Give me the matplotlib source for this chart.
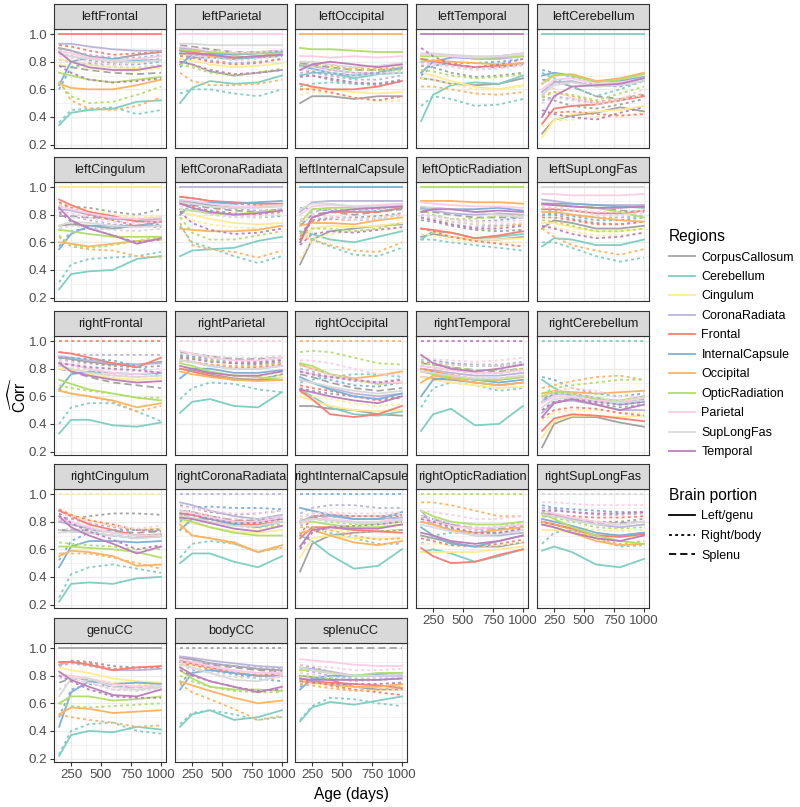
import matplotlib
matplotlib.use('Agg')
import matplotlib.pyplot as plt
from matplotlib.lines import Line2D
import numpy as np

plt.rcParams['font.family'] = ['Liberation Sans', 'DejaVu Sans']
plt.rcParams['mathtext.fontset'] = 'custom'
plt.rcParams['mathtext.rm'] = 'Liberation Sans'

ages = [150, 250, 400, 600, 800, 1000]

regions = ['CorpusCallosum', 'Cerebellum', 'Cingulum', 'CoronaRadiata', 'Frontal',
           'InternalCapsule', 'Occipital', 'OpticRadiation', 'Parietal', 'SupLongFas', 'Temporal']
portions = ['Left/genu', 'Right/body', 'Splenu']

region_colors = ['#A3A3A3', '#80CFC1', '#FFEB94', '#BBB5DC', '#F97F72', '#7FB0D5',
                 '#FDB462', '#B3DE69', '#FCCDE5', '#D9D9D9', '#BC80BD']
portion_styles = ['-', (0, (1.6, 1.8)), (0, (4, 2.2))]

# curves in each panel: genu/body/splenu CC, then left/right of every other region
curves = [('CorpusCallosum', p) for p in portions]
for reg in regions[1:]:
    curves += [(reg, 'Left/genu'), (reg, 'Right/body')]

panel_names = ['leftFrontal', 'leftParietal', 'leftOccipital', 'leftTemporal', 'leftCerebellum',
               'leftCingulum', 'leftCoronaRadiata', 'leftInternalCapsule', 'leftOpticRadiation', 'leftSupLongFas',
               'rightFrontal', 'rightParietal', 'rightOccipital', 'rightTemporal', 'rightCerebellum',
               'rightCingulum', 'rightCoronaRadiata', 'rightInternalCapsule', 'rightOpticRadiation', 'rightSupLongFas',
               'genuCC', 'bodyCC', 'splenuCC']

# correlation x100, rows follow the order of `curves`
leftFrontal = [
    [90, 88, 84, 82, 85, 87], [86, 84, 81, 79, 80, 82], [77, 76, 74, 72, 71, 72],
    [34, 43, 45, 46, 51, 52], [36, 45, 46, 47, 42, 45],
    [82, 80, 78, 76, 75, 76], [78, 77, 75, 73, 73, 75],
    [93, 93, 91, 89, 88, 88], [89, 88, 85, 83, 83, 85],
    [100, 100, 100, 100, 100, 100], [92, 91, 88, 85, 86, 87],
    [63, 80, 83, 82, 81, 81], [60, 76, 79, 78, 78, 80],
    [64, 61, 60, 60, 63, 67], [66, 52, 46, 45, 48, 54],
    [72, 70, 67, 65, 67, 69], [65, 55, 50, 51, 56, 62],
    [88, 86, 83, 81, 82, 84], [84, 83, 80, 78, 79, 81],
    [86, 84, 82, 80, 80, 81], [81, 80, 78, 76, 76, 78],
    [87, 80, 76, 74, 74, 77], [77, 72, 67, 65, 66, 68],
]
leftParietal = [
    [80, 78, 73, 70, 72, 74], [88, 87, 84, 82, 83, 85], [92, 91, 89, 87, 87, 88],
    [50, 61, 66, 64, 65, 70], [57, 60, 60, 57, 55, 60],
    [82, 81, 78, 76, 77, 79], [78, 77, 74, 71, 72, 75],
    [90, 89, 87, 86, 87, 88], [85, 84, 81, 79, 80, 82],
    [88, 87, 85, 83, 84, 86], [84, 83, 80, 78, 79, 82],
    [78, 85, 86, 85, 86, 87], [76, 83, 83, 82, 83, 84],
    [86, 85, 84, 83, 84, 85], [72, 66, 63, 63, 64, 67],
    [89, 88, 87, 86, 86, 86], [78, 76, 72, 70, 72, 75],
    [100, 100, 100, 100, 100, 100], [91, 90, 88, 87, 87, 88],
    [93, 93, 92, 92, 92, 92], [86, 85, 83, 81, 82, 84],
    [86, 86, 85, 83, 84, 85], [80, 78, 74, 71, 72, 74],
]
leftOccipital = [
    [50, 55, 55, 53, 55, 55], [70, 70, 67, 64, 64, 67], [79, 78, 76, 74, 74, 75],
    [70, 72, 72, 68, 71, 72], [62, 64, 65, 64, 63, 66],
    [60, 61, 60, 58, 57, 58], [56, 58, 57, 54, 51, 52],
    [78, 77, 74, 72, 72, 75], [72, 72, 70, 67, 67, 70],
    [64, 62, 60, 60, 62, 66], [60, 60, 58, 54, 52, 55],
    [77, 75, 72, 70, 72, 76], [74, 73, 71, 70, 71, 74],
    [100, 100, 100, 100, 100, 100], [80, 79, 77, 75, 75, 76],
    [90, 89, 89, 88, 87, 87], [78, 77, 75, 74, 74, 74],
    [84, 84, 83, 84, 83, 84], [76, 76, 74, 72, 72, 73],
    [80, 80, 78, 76, 77, 79], [74, 74, 72, 70, 71, 72],
    [74, 78, 80, 78, 76, 78], [69, 70, 68, 65, 64, 66],
]
leftTemporal = [
    [68, 67, 64, 63, 64, 68], [77, 76, 72, 69, 70, 72], [82, 81, 78, 76, 76, 78],
    [37, 56, 63, 65, 64, 70], [48, 55, 53, 48, 49, 53],
    [72, 70, 66, 62, 60, 63], [68, 67, 64, 60, 60, 62],
    [85, 85, 84, 82, 82, 84], [80, 80, 78, 76, 77, 79],
    [82, 80, 78, 76, 77, 79], [80, 79, 77, 75, 76, 78],
    [72, 80, 83, 83, 84, 86], [70, 77, 79, 79, 80, 82],
    [80, 81, 80, 79, 78, 79], [62, 62, 60, 57, 56, 58],
    [84, 84, 84, 83, 83, 84], [74, 73, 70, 68, 69, 71],
    [85, 85, 84, 83, 84, 86], [78, 78, 76, 74, 75, 77],
    [86, 86, 85, 84, 84, 85], [79, 79, 77, 75, 76, 78],
    [100, 100, 100, 100, 100, 100], [90, 84, 78, 76, 78, 82],
]
leftCerebellum = [
    [28, 38, 41, 43, 47, 44], [55, 52, 48, 46, 49, 53], [67, 66, 62, 55, 53, 56],
    [100, 100, 100, 100, 100, 100], [72, 68, 62, 55, 60, 66],
    [25, 38, 42, 44, 45, 48], [33, 37, 38, 40, 40, 43],
    [58, 65, 66, 62, 63, 66], [52, 55, 53, 50, 52, 56],
    [35, 46, 48, 49, 52, 55], [42, 43, 44, 42, 41, 42],
    [70, 72, 70, 66, 66, 69], [74, 72, 69, 63, 62, 66],
    [64, 70, 71, 66, 68, 72], [56, 58, 55, 51, 53, 57],
    [64, 71, 70, 65, 67, 71], [54, 58, 56, 52, 57, 62],
    [60, 67, 68, 64, 65, 68], [66, 60, 53, 50, 53, 60],
    [56, 63, 65, 62, 63, 66], [50, 54, 52, 49, 52, 56],
    [40, 55, 62, 63, 64, 68], [45, 42, 40, 38, 43, 47],
]
leftCingulum = [
    [72, 73, 72, 70, 72, 75], [86, 86, 85, 82, 80, 84], [79, 79, 78, 77, 76, 78],
    [26, 37, 39, 40, 48, 50], [31, 44, 48, 49, 50, 53],
    [100, 100, 100, 100, 100, 100], [88, 86, 83, 80, 78, 79],
    [84, 83, 80, 77, 76, 77], [80, 79, 76, 73, 72, 73],
    [91, 87, 82, 79, 75, 75], [89, 85, 80, 76, 72, 71],
    [55, 66, 72, 72, 72, 72], [57, 68, 70, 70, 72, 73],
    [60, 59, 57, 59, 61, 62], [64, 57, 55, 54, 50, 49],
    [69, 68, 66, 64, 64, 64], [65, 58, 56, 58, 61, 64],
    [86, 84, 81, 78, 77, 78], [82, 81, 78, 75, 74, 75],
    [72, 75, 74, 72, 71, 72], [70, 72, 71, 69, 68, 70],
    [85, 76, 70, 65, 59, 63], [82, 75, 70, 65, 60, 62],
]
leftCoronaRadiata = [
    [90, 89, 87, 85, 86, 87], [93, 92, 90, 88, 87, 86], [88, 87, 85, 83, 82, 84],
    [50, 54, 55, 56, 61, 64], [72, 60, 56, 50, 45, 50],
    [82, 80, 77, 74, 73, 74], [78, 76, 73, 71, 70, 72],
    [100, 100, 100, 100, 100, 100], [90, 88, 86, 84, 83, 84],
    [93, 92, 90, 89, 88, 88], [88, 86, 83, 81, 80, 82],
    [80, 88, 89, 88, 89, 90], [82, 84, 83, 80, 78, 79],
    [70, 69, 68, 68, 69, 72], [74, 58, 55, 53, 49, 54],
    [84, 83, 81, 80, 82, 83], [78, 67, 62, 62, 65, 68],
    [91, 90, 88, 86, 86, 87], [86, 85, 82, 79, 79, 81],
    [89, 88, 86, 85, 85, 86], [84, 83, 80, 78, 78, 80],
    [88, 85, 82, 80, 81, 83], [82, 74, 69, 66, 67, 70],
]
leftInternalCapsule = [
    [44, 62, 68, 70, 72, 73], [66, 76, 78, 78, 79, 81], [72, 80, 82, 80, 82, 84],
    [68, 66, 62, 60, 64, 68], [68, 62, 57, 51, 50, 56],
    [60, 70, 72, 71, 72, 74], [48, 62, 66, 68, 70, 71],
    [82, 89, 90, 90, 90, 90], [76, 82, 84, 83, 84, 86],
    [62, 78, 82, 82, 82, 85], [64, 75, 77, 76, 77, 80],
    [100, 100, 100, 100, 100, 100], [85, 84, 83, 82, 83, 84],
    [72, 74, 74, 73, 76, 78], [64, 62, 58, 54, 53, 60],
    [74, 84, 85, 85, 85, 86], [66, 70, 70, 68, 70, 74],
    [80, 86, 87, 86, 87, 88], [76, 80, 79, 77, 78, 80],
    [84, 88, 88, 86, 86, 87], [74, 78, 78, 76, 77, 79],
    [60, 78, 82, 84, 85, 86], [58, 66, 68, 67, 69, 71],
]
leftOpticRadiation = [
    [64, 66, 64, 62, 62, 64], [76, 75, 72, 69, 68, 69], [82, 82, 80, 78, 78, 78],
    [62, 68, 67, 63, 64, 66], [62, 62, 60, 58, 56, 54],
    [70, 68, 64, 62, 62, 63], [66, 65, 62, 60, 60, 60],
    [84, 83, 81, 80, 81, 80], [78, 76, 73, 71, 72, 73],
    [70, 69, 67, 63, 65, 68], [70, 68, 64, 61, 59, 57],
    [85, 85, 84, 84, 85, 83], [80, 79, 77, 75, 76, 78],
    [90, 90, 90, 89, 89, 88], [78, 77, 75, 73, 72, 73],
    [100, 100, 100, 100, 100, 100], [84, 80, 77, 77, 79, 80],
    [89, 88, 87, 86, 86, 85], [80, 79, 77, 75, 75, 76],
    [86, 85, 84, 82, 80, 78], [78, 77, 75, 73, 73, 74],
    [82, 84, 84, 82, 83, 82], [78, 76, 73, 70, 70, 72],
]
leftSupLongFas = [
    [70, 76, 74, 70, 70, 72], [80, 80, 77, 74, 73, 75], [88, 88, 86, 85, 83, 82],
    [57, 63, 62, 58, 58, 62], [60, 60, 56, 50, 46, 49],
    [74, 74, 71, 68, 68, 70], [72, 71, 68, 65, 65, 67],
    [91, 90, 88, 87, 87, 87], [84, 83, 80, 78, 78, 79],
    [84, 84, 83, 81, 81, 83], [78, 78, 76, 73, 73, 75],
    [88, 88, 88, 87, 86, 85], [80, 81, 79, 76, 76, 78],
    [82, 82, 80, 78, 76, 75], [70, 64, 58, 54, 51, 55],
    [87, 87, 86, 85, 82, 78], [76, 75, 72, 68, 68, 70],
    [95, 95, 94, 94, 94, 95], [86, 86, 84, 82, 82, 83],
    [100, 100, 100, 100, 100, 100], [85, 85, 83, 80, 80, 81],
    [88, 87, 86, 85, 85, 86], [72, 70, 66, 63, 64, 67],
]
rightFrontal = [
    [88, 87, 85, 83, 83, 85], [86, 86, 84, 82, 81, 82], [80, 78, 74, 70, 68, 66],
    [33, 43, 43, 39, 38, 41], [40, 52, 55, 55, 49, 42],
    [80, 79, 76, 73, 72, 73], [84, 82, 78, 74, 72, 73],
    [89, 88, 86, 84, 83, 84], [92, 91, 90, 90, 90, 90],
    [92, 91, 88, 84, 81, 88], [100, 100, 100, 100, 100, 100],
    [65, 76, 78, 77, 76, 77], [88, 88, 87, 86, 82, 75],
    [64, 62, 60, 57, 52, 55], [65, 62, 60, 56, 49, 53],
    [72, 69, 65, 62, 59, 57], [68, 66, 64, 62, 59, 59],
    [84, 83, 80, 77, 76, 78], [86, 85, 82, 79, 78, 80],
    [82, 80, 77, 75, 74, 75], [84, 82, 79, 76, 74, 75],
    [84, 78, 75, 72, 70, 71], [84, 83, 81, 80, 79, 77],
]
rightParietal = [
    [80, 79, 76, 73, 72, 76], [89, 88, 86, 84, 83, 84], [92, 91, 89, 87, 87, 88],
    [48, 56, 58, 53, 52, 63], [58, 66, 70, 69, 65, 63],
    [80, 78, 75, 72, 72, 74], [84, 82, 78, 75, 74, 76],
    [86, 85, 82, 80, 80, 82], [90, 89, 87, 85, 85, 87],
    [80, 78, 75, 72, 72, 72], [86, 85, 83, 81, 81, 83],
    [73, 80, 80, 77, 77, 79], [90, 89, 88, 87, 85, 84],
    [78, 76, 74, 72, 71, 72], [86, 85, 83, 82, 82, 84],
    [84, 82, 78, 75, 74, 72], [88, 87, 86, 84, 84, 86],
    [93, 91, 88, 86, 86, 88], [100, 100, 100, 100, 100, 100],
    [86, 85, 82, 80, 80, 82], [91, 90, 89, 88, 88, 89],
    [82, 80, 77, 75, 75, 78], [88, 87, 85, 84, 84, 86],
]
rightOccipital = [
    [53, 53, 51, 50, 47, 46], [66, 64, 62, 60, 58, 60], [76, 74, 70, 66, 64, 66],
    [65, 60, 52, 47, 46, 49], [70, 72, 74, 76, 76, 74],
    [60, 57, 53, 50, 49, 50], [62, 60, 58, 55, 53, 54],
    [72, 70, 66, 62, 60, 62], [80, 78, 74, 71, 70, 72],
    [64, 58, 47, 45, 47, 53], [68, 66, 64, 60, 57, 59],
    [74, 70, 65, 60, 58, 62], [78, 76, 72, 68, 67, 70],
    [83, 80, 76, 73, 75, 78], [100, 100, 100, 100, 100, 100],
    [84, 82, 76, 72, 69, 70], [92, 93, 92, 88, 84, 83],
    [78, 76, 74, 72, 70, 70], [86, 86, 84, 80, 76, 75],
    [72, 70, 67, 64, 62, 64], [82, 80, 76, 72, 70, 73],
    [65, 63, 60, 57, 55, 60], [78, 76, 74, 72, 70, 72],
]
rightTemporal = [
    [74, 73, 72, 70, 68, 70], [82, 81, 79, 77, 77, 79], [84, 83, 81, 79, 78, 80],
    [35, 47, 51, 39, 40, 53], [52, 66, 70, 68, 64, 66],
    [74, 72, 70, 68, 66, 67], [78, 77, 75, 73, 72, 74],
    [80, 79, 77, 75, 75, 77], [86, 85, 84, 83, 83, 85],
    [80, 78, 75, 72, 72, 74], [85, 84, 83, 82, 82, 83],
    [60, 72, 74, 72, 70, 72], [86, 86, 84, 82, 82, 84],
    [70, 75, 73, 70, 68, 70], [80, 78, 76, 73, 73, 75],
    [78, 76, 74, 72, 72, 74], [84, 83, 81, 79, 79, 80],
    [82, 81, 79, 77, 77, 79], [88, 87, 86, 85, 86, 88],
    [78, 77, 75, 73, 73, 75], [86, 85, 83, 82, 82, 84],
    [90, 84, 80, 78, 80, 83], [100, 100, 100, 100, 100, 100],
]
rightCerebellum = [
    [23, 40, 45, 45, 41, 38], [50, 56, 57, 55, 52, 54], [58, 62, 62, 59, 56, 58],
    [72, 66, 60, 56, 55, 60], [100, 100, 100, 100, 100, 100],
    [30, 42, 46, 46, 45, 46], [42, 48, 50, 50, 48, 48],
    [48, 56, 57, 54, 50, 50], [56, 60, 60, 58, 56, 58],
    [35, 44, 47, 46, 44, 42], [44, 50, 52, 51, 48, 46],
    [56, 62, 62, 58, 54, 56], [74, 72, 66, 62, 60, 62],
    [62, 64, 63, 62, 63, 64], [66, 68, 71, 74, 75, 72],
    [60, 63, 62, 58, 57, 60], [62, 66, 68, 70, 72, 72],
    [55, 60, 60, 57, 56, 59], [58, 64, 66, 64, 60, 60],
    [52, 58, 59, 56, 55, 57], [56, 62, 62, 59, 57, 60],
    [45, 55, 58, 54, 50, 54], [50, 56, 58, 56, 54, 56],
]
rightCingulum = [
    [74, 73, 72, 70, 68, 70], [80, 82, 84, 86, 86, 85], [74, 74, 74, 73, 72, 73],
    [22, 35, 36, 35, 39, 40], [25, 42, 47, 49, 46, 43],
    [88, 85, 81, 77, 74, 75], [100, 100, 100, 100, 100, 100],
    [80, 78, 75, 72, 70, 71], [84, 82, 79, 76, 74, 75],
    [88, 84, 78, 74, 70, 70], [89, 85, 81, 78, 74, 73],
    [47, 62, 66, 66, 65, 66], [52, 66, 72, 74, 74, 74],
    [55, 59, 58, 55, 48, 49], [57, 57, 57, 54, 50, 46],
    [62, 62, 61, 60, 58, 54], [65, 64, 63, 62, 60, 60],
    [82, 80, 76, 72, 70, 70], [86, 84, 80, 77, 75, 77],
    [72, 73, 72, 70, 68, 69], [74, 75, 74, 72, 70, 71],
    [84, 76, 70, 64, 57, 62], [86, 79, 73, 67, 60, 63],
]
rightCoronaRadiata = [
    [86, 85, 82, 80, 80, 82], [92, 90, 87, 85, 86, 88], [88, 87, 84, 81, 81, 83],
    [50, 57, 57, 51, 47, 55], [54, 64, 66, 64, 58, 62],
    [80, 79, 76, 73, 72, 74], [84, 83, 80, 77, 75, 77],
    [94, 92, 88, 84, 82, 85], [100, 100, 100, 100, 100, 100],
    [86, 85, 82, 78, 78, 80], [88, 87, 84, 81, 80, 83],
    [74, 82, 82, 78, 76, 80], [80, 90, 91, 90, 90, 89],
    [78, 70, 68, 65, 58, 63], [76, 70, 68, 64, 58, 61],
    [82, 80, 76, 72, 70, 70], [85, 83, 80, 77, 76, 78],
    [88, 86, 83, 80, 80, 83], [91, 90, 88, 86, 86, 88],
    [84, 83, 80, 77, 77, 80], [88, 87, 84, 82, 82, 84],
    [83, 82, 79, 75, 73, 77], [86, 85, 82, 79, 79, 82],
]
rightInternalCapsule = [
    [44, 64, 70, 72, 73, 74], [78, 84, 85, 84, 84, 84], [80, 83, 84, 82, 82, 83],
    [70, 66, 56, 46, 48, 60], [78, 75, 72, 68, 64, 64],
    [54, 68, 70, 68, 68, 68], [60, 72, 74, 73, 73, 74],
    [80, 84, 84, 82, 82, 83], [86, 90, 92, 92, 90, 90],
    [68, 76, 76, 74, 73, 72], [70, 84, 85, 84, 84, 85],
    [90, 88, 85, 82, 82, 87], [100, 100, 100, 100, 100, 100],
    [72, 74, 70, 65, 63, 66], [76, 76, 74, 70, 67, 68],
    [80, 80, 78, 76, 76, 78], [82, 82, 80, 78, 78, 80],
    [78, 82, 82, 80, 80, 82], [82, 86, 87, 86, 86, 87],
    [80, 82, 81, 79, 79, 81], [84, 86, 86, 84, 84, 86],
    [62, 74, 76, 75, 75, 78], [60, 72, 76, 77, 78, 80],
]
rightOpticRadiation = [
    [70, 68, 65, 62, 62, 65], [80, 78, 75, 72, 72, 74], [84, 82, 78, 75, 75, 77],
    [58, 60, 57, 51, 55, 60], [64, 70, 72, 72, 72, 74],
    [58, 58, 58, 58, 60, 62], [64, 64, 63, 62, 63, 65],
    [88, 78, 74, 70, 70, 72], [84, 82, 78, 74, 74, 76],
    [61, 55, 50, 51, 56, 60], [68, 66, 63, 62, 64, 67],
    [76, 70, 64, 62, 66, 70], [84, 82, 78, 75, 76, 80],
    [80, 78, 74, 72, 74, 76], [94, 94, 92, 88, 84, 84],
    [88, 84, 80, 78, 78, 80], [100, 100, 100, 100, 100, 100],
    [82, 80, 77, 75, 76, 78], [88, 87, 85, 82, 82, 84],
    [78, 76, 73, 70, 71, 74], [84, 82, 79, 76, 76, 79],
    [72, 70, 66, 64, 66, 70], [82, 80, 76, 72, 72, 75],
]
rightSupLongFas = [
    [80, 78, 75, 70, 70, 72], [86, 85, 83, 80, 80, 82], [84, 84, 82, 79, 79, 80],
    [59, 62, 58, 49, 47, 53], [64, 72, 74, 68, 62, 63],
    [74, 74, 72, 70, 69, 70], [78, 78, 76, 74, 73, 74],
    [86, 85, 82, 78, 76, 78], [90, 89, 87, 85, 85, 86],
    [80, 78, 75, 70, 69, 71], [86, 85, 84, 83, 83, 84],
    [82, 80, 77, 72, 70, 72], [92, 90, 89, 88, 87, 87],
    [78, 76, 72, 66, 63, 64], [80, 78, 74, 68, 64, 66],
    [86, 82, 76, 70, 66, 64], [84, 83, 80, 76, 75, 76],
    [88, 86, 83, 80, 78, 80], [94, 94, 93, 92, 92, 92],
    [85, 84, 81, 78, 78, 80], [100, 100, 100, 100, 100, 100],
    [78, 76, 72, 68, 66, 70], [88, 88, 87, 86, 86, 87],
]
genuCC = [
    [100, 100, 100, 100, 100, 100], [88, 91, 90, 87, 86, 86], [75, 78, 77, 72, 72, 72],
    [22, 37, 40, 39, 43, 41], [23, 40, 45, 46, 40, 38],
    [86, 84, 82, 78, 76, 75], [82, 80, 78, 75, 74, 73],
    [88, 90, 88, 84, 84, 85], [87, 89, 87, 84, 84, 85],
    [90, 90, 88, 84, 86, 87], [90, 90, 89, 85, 86, 86],
    [43, 68, 76, 74, 75, 74], [50, 70, 74, 72, 72, 73],
    [52, 57, 56, 53, 54, 55], [52, 50, 48, 46, 43, 44],
    [60, 65, 65, 62, 63, 65], [60, 58, 57, 58, 59, 60],
    [80, 80, 78, 74, 72, 73], [78, 78, 75, 70, 70, 71],
    [65, 78, 78, 72, 70, 72], [70, 76, 75, 70, 69, 71],
    [83, 77, 72, 66, 65, 70], [80, 76, 70, 65, 64, 64],
]
bodyCC = [
    [93, 92, 89, 87, 85, 84], [100, 100, 100, 100, 100, 100], [91, 90, 88, 86, 84, 83],
    [43, 52, 55, 48, 50, 55], [45, 53, 55, 52, 48, 50],
    [88, 88, 85, 83, 82, 82], [86, 86, 84, 82, 80, 80],
    [94, 93, 91, 89, 87, 86], [92, 91, 89, 87, 86, 85],
    [90, 89, 86, 82, 80, 80], [88, 88, 85, 82, 80, 82],
    [70, 82, 84, 82, 80, 80], [74, 84, 84, 81, 78, 76],
    [76, 73, 69, 64, 60, 62], [74, 68, 63, 56, 48, 51],
    [84, 78, 72, 70, 70, 69], [80, 76, 72, 69, 68, 68],
    [92, 90, 87, 84, 82, 82], [90, 89, 86, 83, 82, 83],
    [88, 86, 82, 77, 76, 80], [86, 85, 82, 79, 78, 79],
    [86, 81, 76, 72, 68, 72], [84, 80, 76, 72, 69, 70],
]
splenuCC = [
    [80, 79, 77, 72, 70, 70], [88, 86, 83, 80, 80, 82], [100, 100, 100, 100, 100, 100],
    [47, 57, 61, 59, 62, 65], [48, 58, 64, 63, 60, 58],
    [76, 75, 73, 72, 72, 73], [74, 73, 71, 70, 69, 70],
    [86, 85, 83, 80, 80, 80], [84, 83, 80, 78, 78, 79],
    [78, 76, 75, 74, 73, 71], [78, 76, 73, 70, 68, 66],
    [70, 78, 80, 80, 81, 82], [72, 77, 78, 77, 77, 78],
    [76, 75, 74, 72, 72, 74], [74, 73, 71, 69, 70, 72],
    [84, 84, 82, 80, 82, 82], [80, 79, 78, 76, 77, 78],
    [92, 91, 90, 88, 87, 87], [88, 87, 86, 84, 84, 85],
    [86, 84, 82, 80, 80, 81], [82, 81, 79, 77, 78, 79],
    [78, 77, 77, 77, 77, 78], [76, 75, 74, 74, 74, 75],
]

panel_data = [leftFrontal, leftParietal, leftOccipital, leftTemporal, leftCerebellum,
              leftCingulum, leftCoronaRadiata, leftInternalCapsule, leftOpticRadiation, leftSupLongFas,
              rightFrontal, rightParietal, rightOccipital, rightTemporal, rightCerebellum,
              rightCingulum, rightCoronaRadiata, rightInternalCapsule, rightOpticRadiation, rightSupLongFas,
              genuCC, bodyCC, splenuCC]

# -------- layout (pixels) --------
W, H = 800, 807
fig = plt.figure(figsize=(W / 100, H / 100), dpi=100)


def px_axes(x, y, w, h):
    return fig.add_axes([x / W, 1 - (y + h) / H, w / W, h / H])


col_left = [54, 175, 295, 416, 537]
row_top = [29, 182, 336, 489, 643]
panel_w, panel_h, strip_h = 112, 119, 25
border = '#333333'
lw = 1.3

for i, (name, data) in enumerate(zip(panel_names, panel_data)):
    r, c = divmod(i, 5)
    ax = px_axes(col_left[c], row_top[r], panel_w, panel_h)
    for (reg, por), vals in zip(curves, data):
        ax.plot(ages, np.array(vals) / 100, color=region_colors[regions.index(reg)],
                linestyle=portion_styles[portions.index(por)], lw=lw)
    ax.set_xlim(107.5, 1042.5)
    ax.set_ylim(0.175, 1.037)
    ax.set_xticks([250, 500, 750, 1000])
    ax.set_xticks([125, 375, 625, 875], minor=True)
    ax.set_yticks([0.2, 0.4, 0.6, 0.8, 1.0])
    ax.set_yticks([0.3, 0.5, 0.7, 0.9], minor=True)
    ax.grid(which='major', color='#EBEBEB', lw=0.9)
    ax.grid(which='minor', color='#EFEFEF', lw=0.5)
    ax.set_axisbelow(True)
    for s in ax.spines.values():
        s.set_color(border)
        s.set_linewidth(0.8)
    bottom = r == 4 or (r == 3 and c >= 3)
    ax.tick_params(which='major', length=3.2, width=0.8, color=border, labelsize=9.6,
                   labelcolor='#4D4D4D', pad=1.5,
                   bottom=bottom, labelbottom=bottom, left=(c == 0), labelleft=(c == 0))
    ax.tick_params(which='minor', length=0)
    if c == 0:
        ax.set_yticklabels(['0.2', '0.4', '0.6', '0.8', '1.0'])

    sx = px_axes(col_left[c], row_top[r] - strip_h, panel_w, strip_h)
    sx.set_facecolor('#D9D9D9')
    sx.set_xticks([])
    sx.set_yticks([])
    for s in sx.spines.values():
        s.set_color(border)
        s.set_linewidth(0.8)
    sx.text(0.5, 0.48, name, ha='center', va='center', fontsize=9.2, color='#1A1A1A',
            transform=sx.transAxes, clip_on=True)

fig.text(351 / W, 1 - 794 / H, 'Age (days)', ha='center', va='center', fontsize=11.2)
fig.text(18 / W, 1 - 395 / H, r'$\widehat{\mathrm{Corr}}$', ha='center', va='center',
         rotation=90, fontsize=11.2)

# -------- legends --------
reg_handles = [Line2D([], [], color=col, lw=lw) for col in region_colors]
leg1 = fig.legend(reg_handles, regions, title='Regions', loc='upper left',
                  bbox_to_anchor=(669 / W, 1 - 229 / H), frameon=False, fontsize=9.0,
                  title_fontsize=11.2, handlelength=2.1, handletextpad=0.5, labelspacing=0.6,
                  borderaxespad=0, borderpad=0)
leg1._legend_box.align = 'left'
por_handles = [Line2D([], [], color='black', lw=lw, linestyle=st) for st in portion_styles]
leg2 = fig.legend(por_handles, portions, title='Brain portion', loc='upper left',
                  bbox_to_anchor=(669 / W, 1 - 488 / H), frameon=False, fontsize=9.0,
                  title_fontsize=11.2, handlelength=2.1, handletextpad=0.5, labelspacing=0.6,
                  borderaxespad=0, borderpad=0)
leg2._legend_box.align = 'left'

fig.savefig('out.png', dpi=100)
